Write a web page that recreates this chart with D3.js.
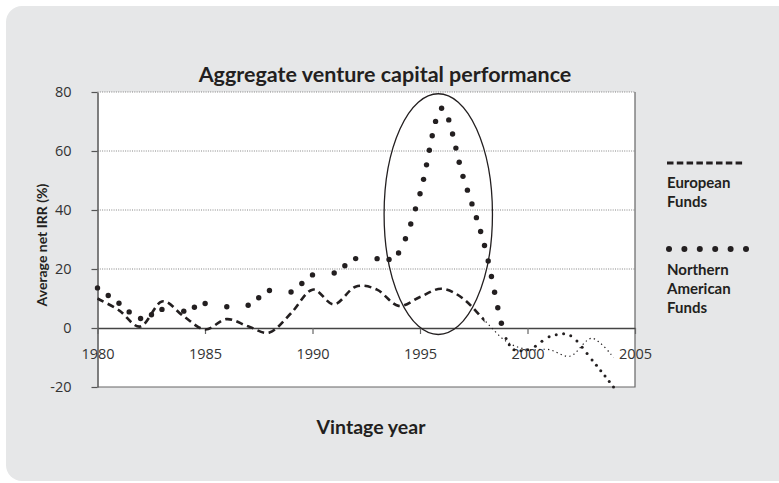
<!DOCTYPE html>
<html>
<head>
<meta charset="utf-8">
<script src="https://cdn.jsdelivr.net/npm/d3@7/dist/d3.min.js"></script>
<style>
  body { margin: 0; background: #fff; }
  svg { display: block; }
  .axis text { font-family: "Open Sans", sans-serif; font-size: 14.5px; fill: #333; }
  .label { font-family: Lato, sans-serif; font-weight: bold; fill: #231f20; }
</style>
</head>
<body>
<div id="chart"></div>
<script>
// vintage years and average net IRR (%)
const years = [1980, 1981, 1982, 1983, 1984, 1985, 1986, 1987, 1988, 1989,
               1990, 1991, 1992, 1993, 1994, 1995, 1996, 1997, 1998, 1999,
               2000, 2001, 2002, 2003, 2004];
const europeanIRR = [10, 6, 0.5, 9, 4, -0.5, 3, 0.6, -1.5, 5,
                     13, 8, 14, 13, 7.5, 10.5, 13.3, 10, 2.6, -4.5,
                     -7.3, -7.3, -9.5, -3.5, -10];
const northAmIRR = [13.6, 8.4, 3.2, 6.3, 5.7, 8.3, 7.2, 7.7, 12.7, 12.2,
                    18, 18.6, 23.5, 23.5, 25.4, 45.5, 74.5, 51.4, 28, -3.5,
                    -7.4, -3, -2.6, -10.8, -20];
// from this year on the series are drawn thinner
const europeanTailFrom = 1998;
const northAmTailFrom = 1999;

const xTicks = [1980, 1985, 1990, 1995, 2000, 2005];
const yTicks = [-20, 0, 20, 40, 60, 80];
const legendNames = [["European", "Funds"], ["Northern", "American", "Funds"]];
// circled peak: centre (year, value) and half sizes
const ringCentre = [1995.85, 38.6];
const ringHalf = [2.52, 40.8];

const W = 779, H = 483;
const margin = { top: 92, right: 144, bottom: 96, left: 97.5 };
const ink = "#231f20";

const svg = d3.select("#chart").append("svg")
  .attr("width", W)
  .attr("height", H);

svg.append("rect")
  .attr("x", 6).attr("y", 6)
  .attr("width", 800).attr("height", 475)
  .attr("rx", 16)
  .attr("fill", "#e6e7e8");

const x = d3.scaleLinear().domain([1980, 2005]).range([margin.left, W - margin.right]);
const y = d3.scaleLinear().domain([-20, 80]).range([H - margin.bottom, margin.top]);

// plot area
svg.append("rect")
  .attr("x", x(1980)).attr("y", y(80))
  .attr("width", x(2005) - x(1980)).attr("height", y(-20) - y(80))
  .attr("fill", "#fff");

svg.append("g").selectAll("line")
  .data(yTicks.filter(d => d > 0))
  .enter().append("line")
  .attr("x1", x(1980)).attr("x2", x(2005))
  .attr("y1", d => y(d)).attr("y2", d => y(d))
  .attr("stroke", "#666")
  .attr("stroke-width", 0.8)
  .attr("stroke-dasharray", "1,1.3");

// right and bottom frame
svg.append("path")
  .attr("d", `M${x(2005)},${y(80)}V${y(-20)}H${x(1980)}`)
  .attr("fill", "none")
  .attr("stroke", "#666")
  .attr("stroke-width", 1.2);

const yAxis = svg.append("g")
  .attr("class", "y axis")
  .attr("transform", `translate(${x(1980)},0)`)
  .call(d3.axisLeft(y).tickValues(yTicks).tickFormat(d => String(d))
    .tickSize(6).tickPadding(20).tickSizeOuter(0));
yAxis.select(".domain").attr("stroke", "#555").attr("stroke-width", 1.5);
yAxis.selectAll(".tick line").attr("stroke", "#555").attr("stroke-width", 1.2);

const xAxis = svg.append("g")
  .attr("class", "x axis")
  .attr("transform", `translate(0,${y(0)})`)
  .call(d3.axisBottom(x).tickValues(xTicks).tickFormat(d => String(d))
    .tickSize(6).tickPadding(15).tickSizeOuter(0));
xAxis.select(".domain").attr("stroke", "#444").attr("stroke-width", 1.5);
xAxis.selectAll(".tick line").attr("stroke", "#666").attr("stroke-width", 1.2);

// smoothed series
const line = d3.line()
  .x(d => x(d.year))
  .y(d => y(d.v))
  .curve(d3.curveCardinal.tension(0));

const european = years.map((yr, i) => ({ year: yr, v: europeanIRR[i] }));
const northAm = years.map((yr, i) => ({ year: yr, v: northAmIRR[i] }));

const defs = svg.append("defs");
defs.append("clipPath").attr("id", "eu-main")
  .append("rect").attr("x", 0).attr("y", 0)
  .attr("width", x(europeanTailFrom)).attr("height", H);
defs.append("clipPath").attr("id", "eu-tail")
  .append("rect").attr("x", x(europeanTailFrom)).attr("y", 0)
  .attr("width", W).attr("height", H);

svg.append("path")
  .datum(european)
  .attr("d", line)
  .attr("clip-path", "url(#eu-main)")
  .attr("fill", "none")
  .attr("stroke", ink)
  .attr("stroke-width", 2.6)
  .attr("stroke-dasharray", "7,4.5");

svg.append("path")
  .datum(european)
  .attr("d", line)
  .attr("clip-path", "url(#eu-tail)")
  .attr("fill", "none")
  .attr("stroke", ink)
  .attr("stroke-width", 1.2)
  .attr("stroke-dasharray", "1.3,3.2");

// round dots along the north american curve, pattern restarting at every year
const naPath = svg.append("path")
  .datum(northAm)
  .attr("d", line)
  .attr("fill", "none")
  .attr("stroke", "none");

function dotsAlong(node, pts) {
  const total = node.getTotalLength();
  const marks = [];
  let j = 0;
  for (let L = 0; L <= total && j < pts.length; L += 0.4) {
    const p = node.getPointAtLength(L);
    while (j < pts.length && p.x >= x(pts[j].year) - 0.05) { marks.push(L); j++; }
  }
  while (marks.length < pts.length) marks.push(total);
  const out = [];
  for (let i = 0; i < marks.length - 1; i++) {
    const tail = pts[i].year >= northAmTailFrom;
    const step = tail ? 7.5 : 15;
    const seg = marks[i + 1] - marks[i];
    const n = Math.max(1, Math.round(seg / step));
    for (let k = 0; k < n; k++) {
      const p = node.getPointAtLength(marks[i] + k * seg / n);
      out.push({ x: p.x, y: p.y, r: tail ? 1.5 : 2.7 });
    }
  }
  const end = node.getPointAtLength(total);
  out.push({ x: end.x, y: end.y, r: 1.5 });
  return out;
}

svg.append("g").selectAll("circle")
  .data(dotsAlong(naPath.node(), northAm))
  .enter().append("circle")
  .attr("cx", d => d.x)
  .attr("cy", d => d.y)
  .attr("r", d => d.r)
  .attr("fill", ink);

// ring round the 1990s peak
svg.append("ellipse")
  .attr("cx", x(ringCentre[0]))
  .attr("cy", y(ringCentre[1]))
  .attr("rx", x(ringCentre[0] + ringHalf[0]) - x(ringCentre[0]))
  .attr("ry", y(ringCentre[1] - ringHalf[1]) - y(ringCentre[1]))
  .attr("fill", "none")
  .attr("stroke", ink)
  .attr("stroke-width", 1.3);

// titles
svg.append("text")
  .attr("class", "label")
  .attr("x", 385).attr("y", 82)
  .attr("text-anchor", "middle")
  .style("font-size", "21.5px")
  .text("Aggregate venture capital performance");

svg.append("text")
  .attr("class", "label")
  .attr("x", 371).attr("y", 434)
  .attr("text-anchor", "middle")
  .style("font-size", "19.5px")
  .text("Vintage year");

svg.append("text")
  .attr("class", "label")
  .attr("transform", "translate(47,245) rotate(-90)")
  .attr("text-anchor", "middle")
  .style("font-size", "14px")
  .text("Average net IRR (%)");

// legend
const legend = svg.append("g").attr("transform", "translate(667,0)");
legend.append("line")
  .attr("x1", 0).attr("x2", 77)
  .attr("y1", 163).attr("y2", 163)
  .attr("stroke", ink)
  .attr("stroke-width", 3)
  .attr("stroke-dasharray", "6.5,3.3");
legend.selectAll("circle")
  .data(d3.range(6))
  .enter().append("circle")
  .attr("cx", d => 2 + d * 15.4)
  .attr("cy", 249)
  .attr("r", 3)
  .attr("fill", ink);

[188, 275].forEach((top, k) => {
  legend.append("text")
    .attr("class", "label")
    .style("font-size", "15px")
    .selectAll("tspan")
    .data(legendNames[k])
    .enter().append("tspan")
    .attr("x", 0)
    .attr("y", (d, i) => top + i * 19)
    .text(d => d);
});
</script>
</body>
</html>
